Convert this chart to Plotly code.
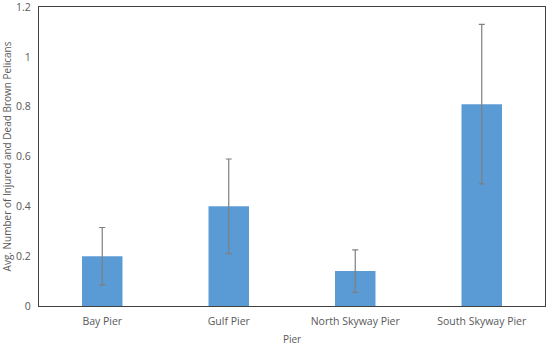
import plotly.graph_objects as go

piers = ['Bay Pier', 'Gulf Pier', 'North Skyway Pier', 'South Skyway Pier']
avg_pelicans = [0.20, 0.40, 0.14, 0.81]
err_up = [0.115, 0.19, 0.085, 0.32]
err_down = [0.115, 0.19, 0.085, 0.32]

fig = go.Figure(go.Bar(
    x=piers, y=avg_pelicans,
    marker=dict(color='#5B9BD5', line=dict(width=0)),
    error_y=dict(type='data', symmetric=False, array=err_up, arrayminus=err_down,
                 color='#7f7f7f', thickness=1.2, width=3),
))

font = dict(family='Open Sans, Noto Sans, sans-serif', size=10.5, color='#595959')
title_font = dict(family='Open Sans, Noto Sans, sans-serif', size=10, color='#595959')
fig.update_layout(
    width=550, height=346,
    margin=dict(l=39, r=5, t=7, b=40, autoexpand=False),
    plot_bgcolor='white', paper_bgcolor='white',
    bargap=0.68, font=font, showlegend=False,
)
fig.update_xaxes(
    title=dict(text='Pier', standoff=9, font=title_font),
    showline=True, mirror=True, linecolor='#404040', linewidth=1.2,
    ticks='', showgrid=False, automargin=False, ticklabelstandoff=5,
)
fig.update_yaxes(
    title=dict(text='Avg. Number of Injured and Dead Brown Pelicans', standoff=10, font=title_font),
    range=[0, 1.2], tickvals=[0, 0.2, 0.4, 0.6, 0.8, 1, 1.2],
    ticktext=['0', '0.2', '0.4', '0.6', '0.8', '1', '1.2'],
    showline=True, mirror=True, linecolor='#404040', linewidth=1.2,
    ticks='', showgrid=False, zeroline=False, automargin=False,
    ticklabelstandoff=5, ticklabeloverflow='allow',
)

# drop the default page margin so the figure sits at the window's corner
fig.write_html('out.html', config={'displayModeBar': False},
               post_script="document.body.style.margin='0';")
